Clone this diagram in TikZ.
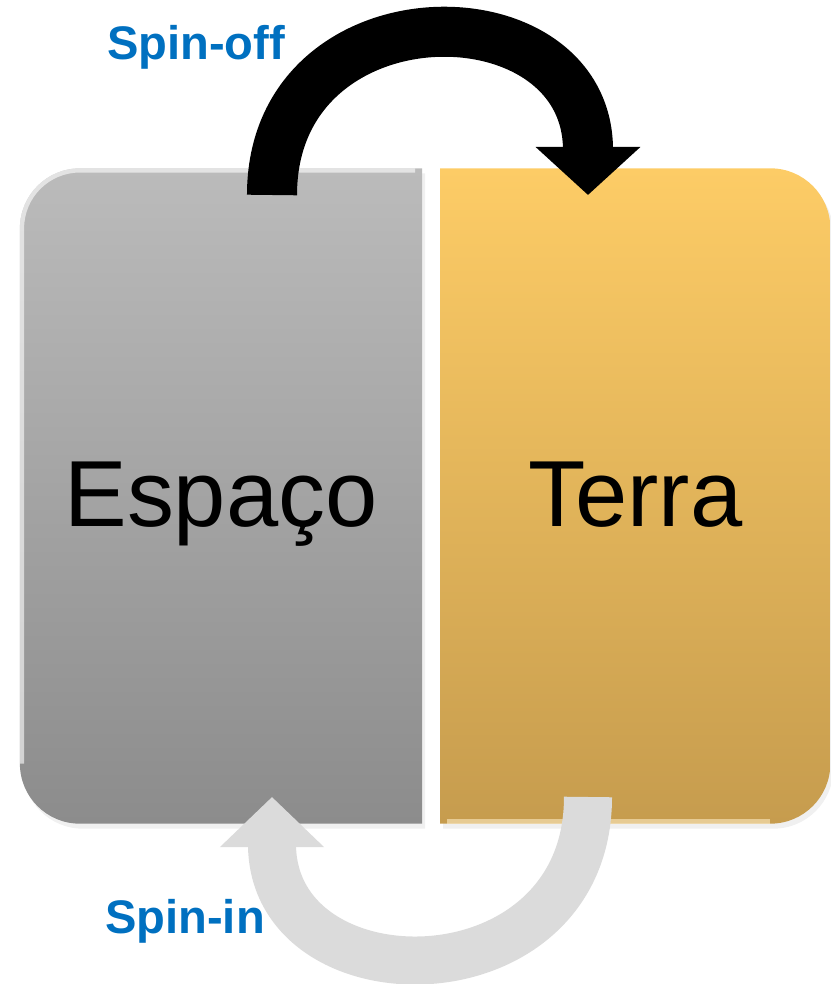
\documentclass[tikz,border=0pt]{standalone}
\usepackage{fontspec}
\setmainfont{Liberation Sans}
\usetikzlibrary{positioning,arrows.meta,backgrounds,shadows}

\definecolor{spacetop}{RGB}{187,187,187}
\definecolor{spacebot}{RGB}{140,140,140}
\definecolor{earthtop}{RGB}{253,204,102}
\definecolor{earthbot}{RGB}{198,156,78}
\definecolor{spinblue}{RGB}{0,112,192}

\tikzset{
  box/.style       = {shape=rectangle, inner sep=0pt, outer sep=0pt,
                      minimum height=6.55cm, text height=0.7cm, text depth=0.1cm,
                      font=\fontsize{26.7}{32}\selectfont},
  spacebox/.style  = {box, minimum width=4.02cm},
  earthbox/.style  = {box, minimum width=3.9cm},
  boxshadow/.style = {drop shadow={shadow xshift=0.3mm, shadow yshift=-0.5mm,
                      opacity=0.12}},
  spacefill/.style = {top color=spacetop, bottom color=spacebot, boxshadow},
  earthfill/.style = {top color=earthtop, bottom color=earthbot, boxshadow},
  bevel/.style     = {line width=1.2pt, opacity=0.6},
  spinlabel/.style = {font=\fontsize{13.4}{16}\selectfont\bfseries,
                      text=spinblue, anchor=base, inner sep=0pt},
  spinoff/.style   = {draw=black, line width=0.5cm,
                      -{Triangle[width=1.02cm,length=0.48cm]}},
  spinin/.style    = {draw=black!14, line width=0.48cm,
                      -{Triangle[width=1.01cm,length=0.5cm]}}
}

\begin{document}
\begin{tikzpicture}[x=0.01cm, y=0.01cm]
\useasboundingbox (0,0) rectangle (831,984);

\node[spacebox] (esp) at (221,488) {Espaço};
\node[earthbox, right=0.18cm of esp] (terra) {Terra};

\begin{scope}[on background layer]
  \shade[spacefill] (esp.north east) -- ([xshift=0.6cm]esp.north west)
    arc[start angle=90, end angle=180, radius=0.6cm]
    -- ([yshift=0.6cm]esp.south west)
    arc[start angle=180, end angle=270, radius=0.6cm]
    -- (esp.south east) -- cycle;
  \shade[earthfill] (terra.north west) -- ([xshift=-0.6cm]terra.north east)
    arc[start angle=90, end angle=0, radius=0.6cm]
    -- ([yshift=0.6cm]terra.south east)
    arc[start angle=0, end angle=-90, radius=0.6cm]
    -- (terra.south west) -- cycle;
  % light edges
  \draw[bevel, white] ([xshift=-2pt, yshift=-0.6pt]esp.north east)
    -- ([xshift=0.6cm, yshift=-0.6pt]esp.north west)
    arc[start angle=90, end angle=180, radius=0.6cm-0.6pt]
    -- ([xshift=0.6pt, yshift=0.6cm]esp.south west);
  \draw[bevel, earthtop!40] ([xshift=2pt, yshift=0.6pt]terra.south west)
    -- ([xshift=-0.6cm, yshift=0.6pt]terra.south east);
\end{scope}

\coordinate (offA) at (272,789);
\coordinate (offB) at (588,789);
\coordinate (inA)  at (272,187);
\coordinate (inB)  at (588,187);

\draw[spinoff] (offA) to[out=90, in=90, looseness=1.7] (offB);
\draw[spinin]  (inB) to[out=-90, in=-90, looseness=1.7] (inA);

\node[spinlabel] (off) at (196,924) {Spin-off};
\node[spinlabel] (in)  at (185,51)  {Spin-in};
\end{tikzpicture}
\end{document}
